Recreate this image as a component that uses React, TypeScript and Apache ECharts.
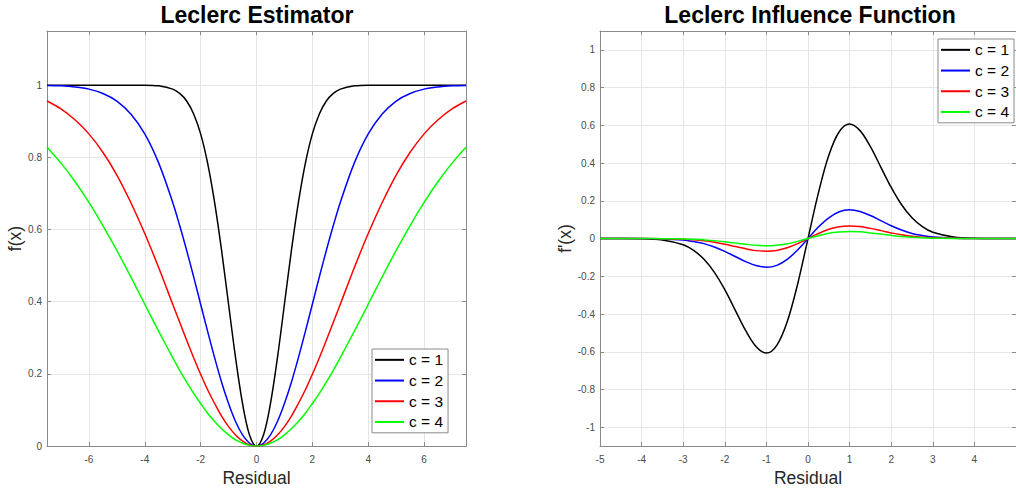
import React, { useEffect, useRef } from "react";
import * as echarts from "echarts";

// ---- data ----
const seriesNames = ["c = 1", "c = 2", "c = 3", "c = 4"];
const seriesColors = ["#000000", "#0000ff", "#ff0000", "#00ff00"];

// Left panel: Leclerc estimator
const estX = [-7.5, -7, -6.5, -6, -5.5, -5, -4.5, -4, -3.5, -3, -2.75, -2.5, -2.25, -2, -1.75, -1.5, -1.25, -1, -0.75, -0.5, -0.25, 0,
  0.25, 0.5, 0.75, 1, 1.25, 1.5, 1.75, 2, 2.25, 2.5, 2.75, 3, 3.5, 4, 4.5, 5, 5.5, 6, 6.5, 7, 7.5];
const estC1 = [1, 1, 1, 1, 1, 1, 1, 1.0, 0.998, 0.989, 0.977, 0.956, 0.92, 0.865, 0.784, 0.675, 0.542, 0.393, 0.245, 0.118, 0.031, 0,
  0.031, 0.118, 0.245, 0.393, 0.542, 0.675, 0.784, 0.865, 0.92, 0.956, 0.977, 0.989, 0.998, 1, 1, 1, 1, 1, 1, 1, 1];
const estC2 = [0.999, 0.998, 0.995, 0.989, 0.977, 0.956, 0.92, 0.865, 0.784, 0.675, 0.611, 0.542, 0.469, 0.393, 0.318, 0.245, 0.177, 0.118, 0.068, 0.031, 0.008, 0,
  0.008, 0.031, 0.068, 0.118, 0.177, 0.245, 0.318, 0.393, 0.469, 0.542, 0.611, 0.675, 0.784, 0.865, 0.92, 0.956, 0.977, 0.989, 0.995, 0.998, 0.999];
const estC3 = [0.956, 0.934, 0.904, 0.865, 0.814, 0.751, 0.675, 0.589, 0.494, 0.393, 0.343, 0.293, 0.245, 0.199, 0.156, 0.118, 0.083, 0.054, 0.031, 0.014, 0.003, 0,
  0.003, 0.014, 0.031, 0.054, 0.083, 0.118, 0.156, 0.199, 0.245, 0.293, 0.343, 0.393, 0.494, 0.589, 0.675, 0.751, 0.814, 0.865, 0.904, 0.934, 0.956];
const estC4 = [0.828, 0.784, 0.733, 0.675, 0.611, 0.542, 0.469, 0.393, 0.318, 0.245, 0.21, 0.177, 0.146, 0.118, 0.091, 0.068, 0.048, 0.031, 0.017, 0.008, 0.002, 0,
  0.002, 0.008, 0.017, 0.031, 0.048, 0.068, 0.091, 0.118, 0.146, 0.177, 0.21, 0.245, 0.318, 0.393, 0.469, 0.542, 0.611, 0.675, 0.733, 0.784, 0.828];

// Right panel: Leclerc influence function
const infX = [-5, -4.5, -4, -3.5, -3, -2.75, -2.5, -2.25, -2, -1.75, -1.5, -1.25, -1, -0.75, -0.5, -0.25, 0,
  0.25, 0.5, 0.75, 1, 1.25, 1.5, 1.75, 2, 2.25, 2.5, 2.75, 3, 3.5, 4, 4.5, 5];
const infC1 = [0, 0, -0.001, -0.008, -0.033, -0.063, -0.11, -0.179, -0.271, -0.379, -0.487, -0.572, -0.607, -0.566, -0.441, -0.242, 0,
  0.242, 0.441, 0.566, 0.607, 0.572, 0.487, 0.379, 0.271, 0.179, 0.11, 0.063, 0.033, 0.008, 0.001, 0, 0];
const infC2 = [0, 0, 0, -0.002, -0.008, -0.016, -0.027, -0.045, -0.068, -0.095, -0.122, -0.143, -0.152, -0.142, -0.11, -0.061, 0,
  0.061, 0.11, 0.142, 0.152, 0.143, 0.122, 0.095, 0.068, 0.045, 0.027, 0.016, 0.008, 0.002, 0, 0, 0];
const infC3 = [0, 0, 0, -0.001, -0.004, -0.007, -0.012, -0.02, -0.03, -0.042, -0.054, -0.064, -0.067, -0.063, -0.049, -0.027, 0,
  0.027, 0.049, 0.063, 0.067, 0.064, 0.054, 0.042, 0.03, 0.02, 0.012, 0.007, 0.004, 0.001, 0, 0, 0];
const infC4 = [0, 0, 0, -0.0005, -0.002, -0.004, -0.007, -0.011, -0.017, -0.024, -0.03, -0.036, -0.038, -0.035, -0.028, -0.015, 0,
  0.015, 0.028, 0.035, 0.038, 0.036, 0.03, 0.024, 0.017, 0.011, 0.007, 0.004, 0.002, 0.0005, 0, 0, 0];

const titles = ["Leclerc Estimator", "Leclerc Influence Function"];
const xNames = ["Residual", "Residual"];
const yNames = ["f(x)", "f'(x)"];

const FONT = "'Liberation Sans', Arial, Helvetica, sans-serif";
const AXIS_COLOR = "#8a8a8a";
const GRID_COLOR = "#e6e6e6";
const LABEL_COLOR = "#4a4a4a";

function mainAxis(gridIndex: number, min: number, max: number, opts: any, isX: boolean) {
  return {
    type: "value",
    gridIndex,
    min,
    max,
    ...opts,
    axisLine: { show: true, onZero: false, lineStyle: { color: AXIS_COLOR, width: 1 } },
    axisTick: { show: true, inside: true, length: 4, lineStyle: { color: AXIS_COLOR } },
    splitLine: { show: true, lineStyle: { color: GRID_COLOR, width: 1 } },
    axisLabel: {
      show: true,
      showMinLabel: opts.showMinLabel ?? false,
      showMaxLabel: false,
      fontFamily: FONT,
      fontSize: 10,
      color: LABEL_COLOR,
      margin: isX ? 8 : 5,
    },
  };
}

function boxAxis(gridIndex: number, min: number, max: number, opts: any, position: string) {
  return {
    type: "value",
    gridIndex,
    min,
    max,
    position,
    ...opts,
    axisLine: { show: true, onZero: false, lineStyle: { color: AXIS_COLOR, width: 1 } },
    axisTick: { show: true, inside: true, length: 4, lineStyle: { color: AXIS_COLOR } },
    splitLine: { show: false },
    axisLabel: { show: false },
  };
}

function pairs(xs: number[], ys: number[]) {
  return xs.map((x, i) => [x, ys[i]]);
}

export default function App() {
  const ref = useRef<HTMLDivElement>(null);
  useEffect(() => {
    if (!ref.current) return;
    const chart = echarts.init(ref.current, undefined, { renderer: "svg" });
    const estSets = [estC1, estC2, estC3, estC4];
    const infSets = [infC1, infC2, infC3, infC4];

    const series: any[] = [];
    estSets.forEach((ys, i) => {
      series.push({
        type: "line",
        name: seriesNames[i],
        xAxisIndex: 0,
        yAxisIndex: 0,
        data: pairs(estX, ys),
        smooth: 0.35,
        showSymbol: false,
        symbol: "none",
        lineStyle: { color: seriesColors[i], width: 1.5 },
        itemStyle: { color: seriesColors[i] },
      });
    });
    infSets.forEach((ys, i) => {
      series.push({
        type: "line",
        name: seriesNames[i],
        xAxisIndex: 2,
        yAxisIndex: 2,
        data: pairs(infX, ys),
        smooth: 0.35,
        showSymbol: false,
        symbol: "none",
        lineStyle: { color: seriesColors[i], width: 1.5 },
        itemStyle: { color: seriesColors[i] },
      });
    });

    const legendBase = {
      orient: "vertical",
      icon: "rect",
      itemWidth: 29,
      itemHeight: 2,
      itemGap: 3,
      itemTextGap: 4,
      backgroundColor: "#ffffff",
      borderColor: "#8a8a8a",
      borderWidth: 1,
      borderRadius: 0,
      padding: [2, 5, 2, 3],
      selectedMode: false,
      data: seriesNames,
      textStyle: { fontFamily: FONT, fontSize: 15.5, color: "#000000", lineHeight: 17.7 },
    };

    chart.setOption({
      animation: false,
      backgroundColor: "#ffffff",
      grid: [
        { left: 47, top: 31, width: 419, height: 419, containLabel: false },
        { left: 600, top: 31, width: 420, height: 419, containLabel: false },
      ],
      xAxis: [
        {
          ...mainAxis(0, -7.5, 7.5, { splitNumber: 7 }, true),
          name: xNames[0],
          nameLocation: "middle",
          nameGap: 21,
          nameTextStyle: { fontFamily: FONT, fontSize: 17.5, color: "#262626", verticalAlign: "top" },
        },
        boxAxis(0, -7.5, 7.5, { splitNumber: 7 }, "top"),
        {
          ...mainAxis(1, -5, 5, { interval: 1, showMinLabel: true }, true),
          name: xNames[1],
          nameLocation: "middle",
          nameGap: 21,
          nameTextStyle: { fontFamily: FONT, fontSize: 17.5, color: "#262626", verticalAlign: "top" },
        },
        boxAxis(1, -5, 5, { interval: 1 }, "top"),
      ],
      yAxis: [
        {
          ...mainAxis(0, 0, 1.15, { interval: 0.2, showMinLabel: true }, false),
          name: yNames[0],
          nameLocation: "middle",
          nameGap: 20,
          nameRotate: 90,
          nameTextStyle: { fontFamily: FONT, fontSize: 17.5, color: "#262626" },
        },
        boxAxis(0, 0, 1.15, { interval: 0.2 }, "right"),
        {
          ...mainAxis(1, -1.1, 1.1, { splitNumber: 11 }, false),
          name: yNames[1],
          nameLocation: "middle",
          nameGap: 24,
          nameRotate: 90,
          nameTextStyle: { fontFamily: FONT, fontSize: 17.5, color: "#262626" },
        },
        boxAxis(1, -1.1, 1.1, { splitNumber: 11 }, "right"),
      ],
      legend: [
        { ...legendBase, left: 372, top: 349 },
        { ...legendBase, left: 938, top: 39 },
      ],
      graphic: [
        {
          type: "text",
          x: 257,
          y: 15,
          style: {
            text: titles[0],
            fontFamily: FONT,
            fontWeight: "bold",
            fontSize: 23,
            fill: "#000000",
            textAlign: "center",
            textVerticalAlign: "middle",
          },
        },
        {
          type: "text",
          x: 810,
          y: 15,
          style: {
            text: titles[1],
            fontFamily: FONT,
            fontWeight: "bold",
            fontSize: 23,
            fill: "#000000",
            textAlign: "center",
            textVerticalAlign: "middle",
          },
        },
      ],
      series,
    });
    return () => chart.dispose();
  }, []);

  return (
    <div
      ref={ref}
      style={{ position: "absolute", left: 0, top: 0, width: 1016, height: 492, background: "#fff" }}
    />
  );
}
